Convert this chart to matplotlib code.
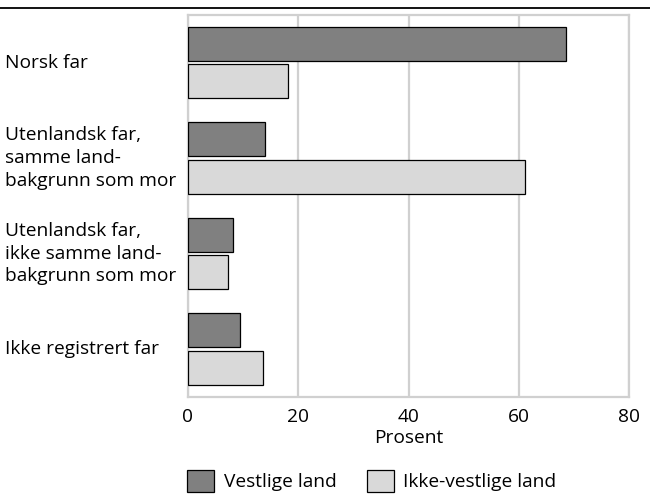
import matplotlib
matplotlib.use("Agg")
import matplotlib.pyplot as plt
import matplotlib.transforms as mtransforms
from matplotlib.lines import Line2D
import numpy as np

# Data
categories = [
    "Norsk far",
    "Utenlandsk far,\nsamme land-\nbakgrunn som mor",
    "Utenlandsk far,\nikke samme land-\nbakgrunn som mor",
    "Ikke registrert far",
]
vestlige = [68.6, 14.0, 8.2, 9.4]
ikke_vestlige = [18.1, 61.2, 7.3, 13.6]
series_names = ["Vestlige land", "Ikke-vestlige land"]
xticks = [0, 20, 40, 60, 80]

plt.rcParams['font.family'] = ['Open Sans', 'DejaVu Sans']
FS = 13.8
grid_col = "#d0d0d0"

fig = plt.figure(figsize=(6.5, 4.96), dpi=100)
ax = fig.add_axes([0.289, 0.2, 0.679, 0.77])

y = np.arange(len(categories))
h = 0.356
off = h / 2 + 0.017
ax.barh(y - off, vestlige, height=h, color="#808080", edgecolor="black",
        linewidth=0.9, label=series_names[0], zorder=3)
ax.barh(y + off, ikke_vestlige, height=h, color="#d9d9d9", edgecolor="black",
        linewidth=0.9, label=series_names[1], zorder=3)

ax.set_xlim(0, 80)
ax.set_ylim(3.5, -0.5)
ax.set_xticks(xticks)
ax.set_xticklabels([str(t) for t in xticks], fontsize=FS)
ax.tick_params(axis='x', length=0, pad=8)
ax.set_yticks([])
ax.set_xlabel("Prosent", fontsize=FS, labelpad=2)
ax.xaxis.grid(True, color=grid_col, linewidth=1.6, zorder=0)
for s in ax.spines.values():
    s.set_color(grid_col)
    s.set_linewidth(1.6)

# category labels, left aligned at the figure edge
trans = mtransforms.blended_transform_factory(fig.transFigure, ax.transData)
for yi, cat in zip(y, categories):
    ax.text(0.008, yi, cat, transform=trans, ha='left', va='center',
            fontsize=FS, linespacing=1.35)

# black rule across the top
fig.add_artist(Line2D([0, 1], [0.984, 0.984], color="black", linewidth=1.3,
                      transform=fig.transFigure))

fig.legend(loc='center', bbox_to_anchor=(0.572, 0.03), ncol=2, frameon=False,
           fontsize=FS, handlelength=1.4, handleheight=1.4, handletextpad=0.5,
           columnspacing=1.6)

fig.savefig("out.png", dpi=100)
